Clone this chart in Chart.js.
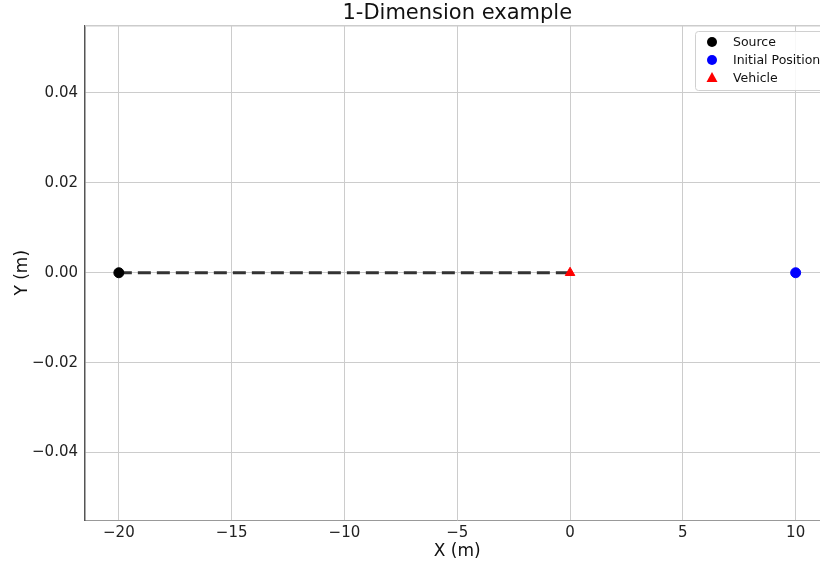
<!DOCTYPE html>
<html><head><meta charset="utf-8">
<script src="https://cdn.jsdelivr.net/npm/chart.js@4.4.0/dist/chart.umd.min.js"></script>
<style>html,body{margin:0;padding:0;overflow:hidden;background:#fff;width:820px;height:565px}canvas{display:block}</style>
</head><body>
<canvas id="c" width="836" height="565"></canvas>
<script>
const trajectoryX = [-20, 0];
const trajectoryY = [0, 0];
const sourceX = [-20];
const sourceY = [0];
const initialX = [10];
const initialY = [0];
const vehicleX = [0];
const vehicleY = [0];
const xTicks = [-20, -15, -10, -5, 0, 5, 10];
const yTicks = [-0.04, -0.02, 0, 0.02, 0.04];
const seriesLabels = ['Source', 'Initial Position', 'Vehicle'];

const pts = (xs, ys) => xs.map((x, i) => ({x: x, y: ys[i]}));
const minus = s => s.replace('-', '\u2212');
const FONT = "'DejaVu Sans', sans-serif";

const legendPlugin = {
  id: 'boxLegend',
  afterDraw(chart) {
    const ctx = chart.ctx;
    const ca = chart.chartArea;
    ctx.save();
    // top spine
    ctx.strokeStyle = '#cccccc';
    ctx.lineWidth = 1.5;
    ctx.beginPath();
    ctx.moveTo(ca.left, ca.top + 0.25);
    ctx.lineTo(ca.right, ca.top + 0.25);
    ctx.stroke();
    // legend box
    const bx = 695.5, by = 31.5, bw = 200, bh = 59;
    ctx.fillStyle = 'rgba(255,255,255,0.85)';
    ctx.strokeStyle = '#d0d0d0';
    ctx.lineWidth = 1;
    ctx.beginPath();
    ctx.roundRect(bx, by, bw, bh, 3);
    ctx.fill();
    ctx.stroke();
    const items = chart.data.datasets.filter(d => d.legendItem);
    items.forEach((d, i) => {
      const y = 42 + i * 18;
      const x = 712;
      ctx.fillStyle = d.backgroundColor;
      ctx.beginPath();
      if (d.pointStyle === 'triangle') {
        ctx.moveTo(x, y - 6);
        ctx.lineTo(x + 5.5, y + 4);
        ctx.lineTo(x - 5.5, y + 4);
        ctx.closePath();
      } else {
        ctx.arc(x, y, 5, 0, Math.PI * 2);
      }
      ctx.fill();
      ctx.fillStyle = '#111';
      ctx.font = "12.5px " + FONT;
      ctx.textBaseline = 'middle';
      ctx.textAlign = 'left';
      ctx.fillText(d.label, 733, y + 0.5);
    });
    ctx.restore();
  }
};

new Chart(document.getElementById('c'), {
  type: 'scatter',
  data: {
    datasets: [
      {label: seriesLabels[0], legendItem: true, data: pts(sourceX, sourceY), backgroundColor: '#000000', borderColor: '#000000', pointRadius: 5, pointStyle: 'circle', order: 1},
      {label: seriesLabels[1], legendItem: true, data: pts(initialX, initialY), backgroundColor: '#0000ff', borderColor: '#0000ff', pointRadius: 5, pointStyle: 'circle', order: 1},
      {label: seriesLabels[2], legendItem: true, data: pts(vehicleX, vehicleY), backgroundColor: '#ff0000', borderColor: '#ff0000', pointRadius: 5.5, pointStyle: 'triangle', order: 1},
      {label: 'Trajectory', data: pts(trajectoryX, trajectoryY), showLine: true, borderColor: '#333333', borderWidth: 3, borderDash: [13, 6], pointRadius: 0, order: 10}
    ]
  },
  options: {
    responsive: false,
    animation: false,
    events: [],
    layout: {padding: {top: 0, left: 0, right: 1, bottom: 0}},
    plugins: {
      legend: {display: false},
      tooltip: {enabled: false},
      title: {display: true, text: '1-Dimension example', fullSize: false, color: '#111', font: {family: FONT, size: 21, weight: 'normal', lineHeight: 1.0}, padding: {top: 3, bottom: 1.5}}
    },
    scales: {
      x: {
        type: 'linear', min: -21.5, max: 11.5,
        afterFit: s => { s.height = 45; s.paddingLeft = 0; s.paddingRight = 0; },
        afterBuildTicks: s => { s.ticks = xTicks.map(v => ({value: v})); },
        ticks: {color: '#222', font: {family: FONT, size: 15}, padding: 4, maxRotation: 0, autoSkip: false, callback: v => minus(String(v))},
        grid: {color: '#cccccc', lineWidth: 1, drawTicks: false},
        border: {color: '#999999', width: 1},
        title: {display: true, text: 'X (m)', color: '#111', font: {family: FONT, size: 17}, padding: {top: 0, bottom: 3}}
      },
      y: {
        type: 'linear', min: -0.055, max: 0.055,
        afterFit: s => { s.width = 85; s.paddingTop = 0; s.paddingBottom = 0; },
        afterBuildTicks: s => { s.ticks = yTicks.map(v => ({value: v})); },
        ticks: {color: '#222', font: {family: FONT, size: 15}, padding: 7, autoSkip: false, callback: v => minus(v.toFixed(2))},
        grid: {color: '#cccccc', lineWidth: 1, drawTicks: false},
        border: {color: '#555555', width: 1.5},
        title: {display: true, text: 'Y (m)', color: '#111', font: {family: FONT, size: 17}, padding: {top: 12, bottom: 0}}
      }
    }
  },
  plugins: [legendPlugin]
});
</script>
</body></html>
